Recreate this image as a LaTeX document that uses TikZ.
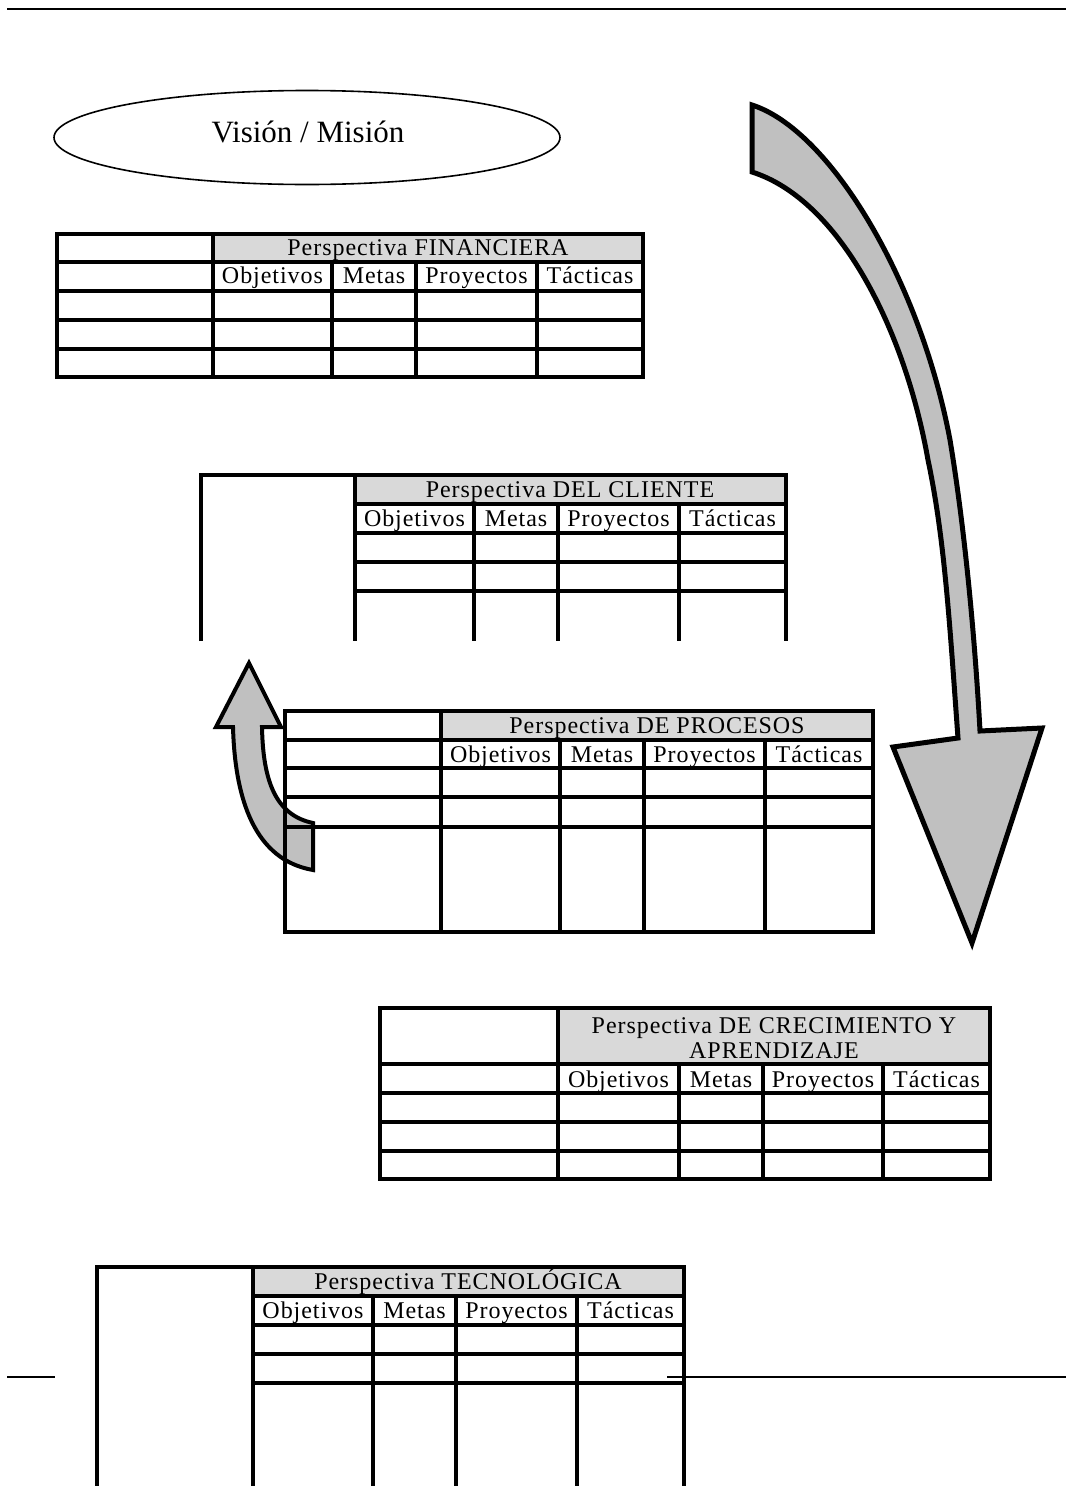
\documentclass[tikz,border=0pt]{standalone}
\usepackage{fontspec}
\setmainfont{Liberation Serif}
\newfontfamily\tabfont[LetterSpace=4]{Liberation Serif}
\definecolor{hdrgray}{HTML}{D9D9D9}
\definecolor{arrowgray}{HTML}{C0C0C0}
\tikzset{
  tabline/.style={line width=3.3pt, black},
  hdrfill/.style={fill=hdrgray},
  lab/.style={font=\tabfont\fontsize{24}{28}\selectfont, inner sep=0pt, anchor=base},
  flowarrow/.style={fill=arrowgray, draw=black, line join=miter},
  pagerule/.style={line width=2pt, black},
}
% four column captions of one perspective table
\newcommand{\colheads}[7]{%
  \node[lab] (#1obj) at ({(#3+#4)/2},#2) {Objetivos};
  \node[lab] (#1met) at ({(#4+#5)/2},#2) {Metas};
  \node[lab] (#1pro) at ({(#5+#6)/2},#2) {Proyectos};
  \node[lab] (#1tac) at ({(#6+#7)/2},#2) {Tácticas};
}
\begin{document}
\begin{tikzpicture}[x=1pt,y=-1pt]
\useasboundingbox (0,0) rectangle (1066,1486);

% header and footer rules
\draw[pagerule] (7,9) -- (1066,9);
\draw[pagerule] (7,1377) -- (55,1377);
\draw[pagerule] (667,1377) -- (1066,1377);

% vision / mission
\draw[line width=1.6pt] (307,137.5) ellipse [x radius=253, y radius=47];
\node[font=\fontsize{31}{35}\selectfont, inner sep=0pt, anchor=base] (vision) at (308,142) {Visión / Misión};

% small curved arrow pointing up
\draw[flowarrow, line width=4pt] (249,663) -- (281,727) -- (262,727)
  .. controls (263,780) and (275,815) .. (313,823) -- (313,870)
  .. controls (255,860) and (235,800) .. (233,727) -- (216,727) -- cycle;

% Perspectiva FINANCIERA
\fill[hdrfill] (213,234) rectangle (643,262);
\draw[tabline] (57,234) rectangle (643,377);
\foreach \y in {262,291,320,349} \draw[tabline] (57,\y) -- (643,\y);
\draw[tabline] (213,234) -- (213,377);
\foreach \x in {332,416,537} \draw[tabline] (\x,262) -- (\x,377);
\node[lab] (finT) at (428,255) {Perspectiva FINANCIERA};
\colheads{fin}{283}{213}{332}{416}{537}{643}

% Perspectiva DEL CLIENTE
\fill[hdrfill] (355,475) rectangle (786,504);
\draw[tabline] (201,641) -- (201,475) -- (786,475) -- (786,641);
\draw[tabline] (355,475) -- (355,641);
\foreach \y in {504,533,562,591} \draw[tabline] (355,\y) -- (786,\y);
\foreach \x in {474,558,679} \draw[tabline] (\x,504) -- (\x,641);
\node[lab] (cliT) at (570,497) {Perspectiva DEL CLIENTE};
\colheads{cli}{526}{355}{474}{558}{679}{786}

% Perspectiva DE PROCESOS
\fill[hdrfill] (441,711) rectangle (873,740);
\draw[tabline] (285,711) rectangle (873,932);
\foreach \y in {740,768,797,827} \draw[tabline] (285,\y) -- (873,\y);
\draw[tabline] (441,711) -- (441,932);
\foreach \x in {560,644,765} \draw[tabline] (\x,740) -- (\x,932);
\node[lab] (proT) at (657,733) {Perspectiva DE PROCESOS};
\colheads{pro}{762}{441}{560}{644}{765}{873}

% Perspectiva DE CRECIMIENTO Y APRENDIZAJE
\fill[hdrfill] (558,1008) rectangle (990,1064);
\draw[tabline] (380,1008) rectangle (990,1179);
\foreach \y in {1064,1093,1122,1151} \draw[tabline] (380,\y) -- (990,\y);
\draw[tabline] (558,1008) -- (558,1179);
\foreach \x in {679,763,883} \draw[tabline] (\x,1064) -- (\x,1179);
\node[lab] (creT1) at (774,1033) {Perspectiva DE CRECIMIENTO Y};
\node[lab] (creT2) at (774,1058) {APRENDIZAJE};
\colheads{cre}{1087}{558}{679}{763}{883}{990}

% Perspectiva TECNOLÓGICA
\fill[hdrfill] (253,1267) rectangle (684,1296);
\draw[tabline] (97,1486) -- (97,1267) -- (684,1267) -- (684,1486);
\draw[tabline] (253,1267) -- (253,1486);
\foreach \y in {1296,1325,1354,1383} \draw[tabline] (253,\y) -- (684,\y);
\foreach \x in {373,456,577} \draw[tabline] (\x,1296) -- (\x,1486);
\node[lab] (tecT) at (468,1289) {Perspectiva TECNOLÓGICA};
\colheads{tec}{1318}{253}{373}{456}{577}{684}

% large curved arrow pointing down
\draw[flowarrow, line width=5pt] (752,105)
  .. controls (830,130) and (920,280) .. (950,440)
  .. controls (965,530) and (975,640) .. (980,731)
  -- (1042,728) -- (972,943) -- (893,747) -- (958,738)
  .. controls (950,630) and (945,540) .. (928,460)
  .. controls (905,330) and (840,200) .. (752,172) -- cycle;
\end{tikzpicture}
\end{document}
